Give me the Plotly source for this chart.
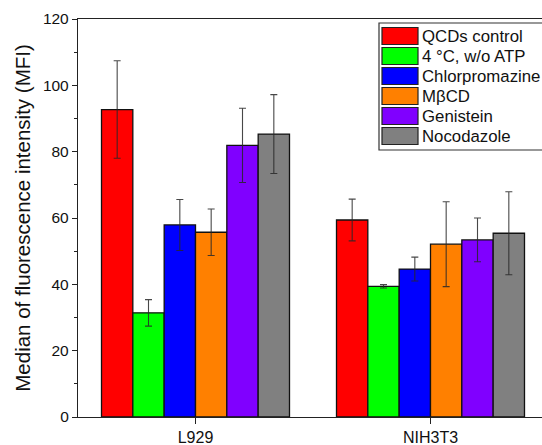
import plotly.graph_objects as go

categories = ["L929", "NIH3T3"]
series_names = ["QCDs control", "4 °C, w/o ATP", "Chlorpromazine", "MβCD", "Genistein", "Nocodazole"]
colors = ["#FF0000", "#00FF00", "#0000FF", "#FF8000", "#8000FF", "#808080"]
values = [
    [92.7, 59.4],
    [31.4, 39.4],
    [57.9, 44.6],
    [55.7, 52.1],
    [81.9, 53.4],
    [85.3, 55.4],
]
errors = [
    [14.7, 6.3],
    [4.0, 0.5],
    [7.7, 3.6],
    [7.0, 12.8],
    [11.2, 6.6],
    [11.9, 12.5],
]
y_ticks = [0, 20, 40, 60, 80, 100, 120]

W, H = 542, 445
ML, MR, MT, MB = 78, 0, 19, 28
fig = go.Figure()
for name, col, v, e in zip(series_names, colors, values, errors):
    fig.add_trace(go.Bar(
        x=categories, y=v, name=name,
        marker=dict(color=col, line=dict(color="#111111", width=1.3)),
        error_y=dict(type="data", array=e, visible=True, color="rgba(40,40,40,0.85)",
                     thickness=1.1, width=3.5),
        showlegend=False,
    ))

# custom legend (paper coords)
pw = W - ML - MR
ph = H - MT - MB
def px_x(x):
    return (x - ML) / pw
def px_y(y):
    return 1 - (y - MT) / ph

shapes = [dict(type="rect", xref="paper", yref="paper",
               x0=px_x(379), x1=px_x(548), y0=px_y(150), y1=px_y(23),
               line=dict(color="#333333", width=1.2), fillcolor="white", layer="above")]
annotations = []
for i, (name, col) in enumerate(zip(series_names, colors)):
    top = 27.5 + 20 * i
    shapes.append(dict(type="rect", xref="paper", yref="paper",
                       x0=px_x(382), x1=px_x(418), y0=px_y(top + 17), y1=px_y(top),
                       line=dict(color="#222222", width=1.2), fillcolor=col, layer="above"))
    annotations.append(dict(x=px_x(420), y=px_y(top + 8.5), xref="paper", yref="paper",
                            text=name, showarrow=False, xanchor="left", yanchor="middle",
                            font=dict(size=16.8, color="#111111", family="Liberation Sans, Arial")))

fig.update_layout(
    width=W, height=H,
    margin=dict(l=ML, r=MR, t=MT, b=MB, autoexpand=False),
    paper_bgcolor="white", plot_bgcolor="white",
    barmode="group", bargap=0.2, bargroupgap=0,
    font=dict(family="Liberation Sans, Arial", size=15, color="#111111"),
    shapes=shapes, annotations=annotations,
)
fig.update_xaxes(
    range=[-0.5, -0.5 + pw / 235.0],
    showline=True, linecolor="#222222", linewidth=1.3, mirror=True,
    ticks="outside", ticklen=6, tickcolor="#222222", tickwidth=1.2,
    showgrid=False, zeroline=False, tickfont=dict(size=16),
    minor=dict(ticks="outside", ticklen=3, tickcolor="#222222", tickwidth=1.2, dtick=1, tick0=0.5, showgrid=False),
)
fig.update_yaxes(
    range=[0, 120], tickvals=y_ticks,
    showline=True, linecolor="#222222", linewidth=1.3, mirror=False,
    ticks="outside", ticklen=5, tickcolor="#222222", tickwidth=1.2,
    minor=dict(ticks="outside", ticklen=3, tickcolor="#222222", dtick=10, showgrid=False),
    showgrid=False, zeroline=False, tickfont=dict(size=15.5),
    title=dict(text="Median of fluorescence intensity (MFI)", font=dict(size=20.5), standoff=6),
)
fig.write_html("out.html")
